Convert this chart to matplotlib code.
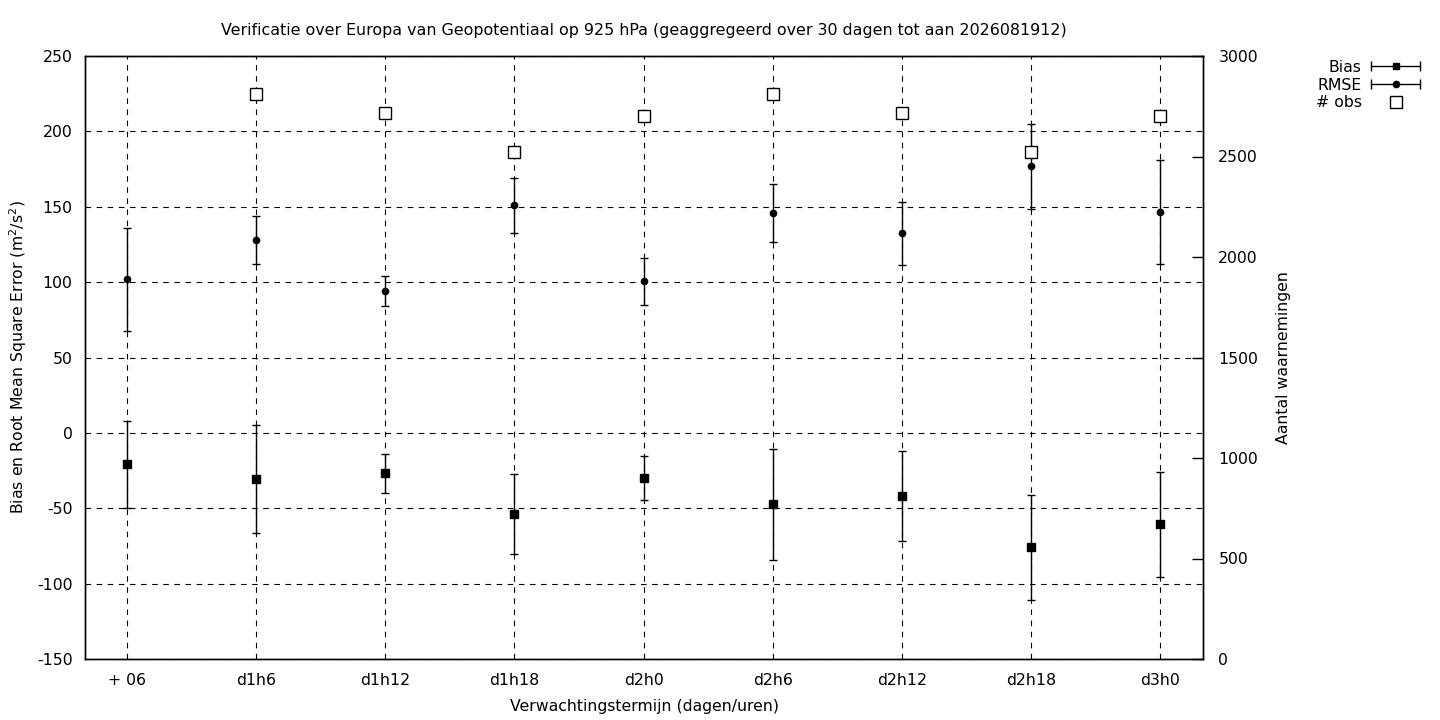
import matplotlib
matplotlib.use("Agg")
import matplotlib.pyplot as plt
from matplotlib.lines import Line2D
from matplotlib.legend_handler import HandlerLine2D, HandlerTuple
import numpy as np

# data
termijnen = ["+ 06", "d1h6", "d1h12", "d1h18", "d2h0", "d2h6", "d2h12", "d2h18", "d3h0"]
bias = [-20.9, -30.8, -26.8, -54.0, -30.1, -47.4, -42.1, -75.9, -60.7]
bias_err = [29.0, 35.9, 13.0, 26.5, 14.6, 36.6, 29.9, 34.7, 34.8]
rmse = [101.9, 127.7, 93.9, 150.9, 100.5, 145.6, 132.4, 176.8, 146.3]
rmse_err = [34.3, 16.0, 10.0, 18.5, 15.6, 19.3, 21.0, 28.0, 34.6]
n_obs = [np.nan, 2810, 2715, 2521, 2700, 2810, 2715, 2521, 2700]

plt.rcParams['font.family'] = ['DejaVu Sans']
plt.rcParams['font.size'] = 11.3
plt.rcParams['axes.unicode_minus'] = False

x = np.arange(len(termijnen))

fig = plt.figure(figsize=(14.4, 7.2), dpi=100)
ax = fig.add_axes([85/1440, 1-659/720, (1203-85)/1440, (659-56)/720])
ax2 = ax.twinx()

ax.errorbar(x, bias, yerr=bias_err, fmt='s', color='black', ms=5.5,
            capsize=3, elinewidth=1, capthick=1, zorder=5)
ax.errorbar(x, rmse, yerr=rmse_err, fmt='o', color='black', ms=4.5,
            capsize=3, elinewidth=1, capthick=1, zorder=5)
ax2.plot(x, n_obs, 's', ms=8, mfc='white', mec='black', mew=1, zorder=5)

ax.set_xlim(-0.326, 8.333)
ax.set_ylim(-150, 250)
ax.set_yticks(np.arange(-150, 251, 50))
ax2.set_ylim(0, 3000)
ax2.set_yticks(np.arange(0, 3001, 500))
ax.set_xticks(x)
ax.set_xticklabels(termijnen)

ax.grid(True, color='black', linestyle=(0, (5, 5)), linewidth=0.8)
ax.set_axisbelow(True)
ax.tick_params(axis='x', direction='in', length=0, pad=10)
ax.tick_params(axis='y', direction='in', length=0, pad=9)
ax2.tick_params(axis='y', direction='in', length=8, width=1, pad=11)
for a in (ax, ax2):
    for s in a.spines.values():
        s.set_linewidth(1.0)

ax.set_title("Verificatie over Europa van Geopotentiaal op 925 hPa (geaggregeerd over 30 dagen tot aan 2026081912)",
             pad=15, fontsize=11.4)
ax.set_xlabel("Verwachtingstermijn (dagen/uren)", labelpad=8)
ax.set_ylabel("Bias en Root Mean Square Error (m$^2$/s$^2$)", labelpad=6)
ax2.set_ylabel("Aantal waarnemingen", labelpad=13)

# legend like gnuplot: line with end caps and the marker in the middle
cap_line = Line2D([], [], color='black', lw=1, marker='|', ms=7, mew=1)
sq_mark = Line2D([], [], color='black', ls='none', marker='s', ms=5)
ci_mark = Line2D([], [], color='black', ls='none', marker='o', ms=4.5)
obs_mark = Line2D([], [], ls='none', marker='s', ms=9, mfc='white', mec='black', mew=1)
hm = {cap_line: HandlerLine2D(numpoints=2), sq_mark: HandlerLine2D(numpoints=1),
      ci_mark: HandlerLine2D(numpoints=1), obs_mark: HandlerLine2D(numpoints=1),
      tuple: HandlerTuple(ndivide=1, pad=0)}
leg = fig.legend([(cap_line, sq_mark), (cap_line, ci_mark), obs_mark],
                 ["Bias", "RMSE", "# obs"], loc='upper right',
                 bbox_to_anchor=(1433/1440, 1-52/720), markerfirst=False,
                 frameon=False, borderpad=0, handlelength=3.76, handletextpad=0.29,
                 labelspacing=0.17, handler_map=hm)

fig.savefig("out.png", dpi=100)
